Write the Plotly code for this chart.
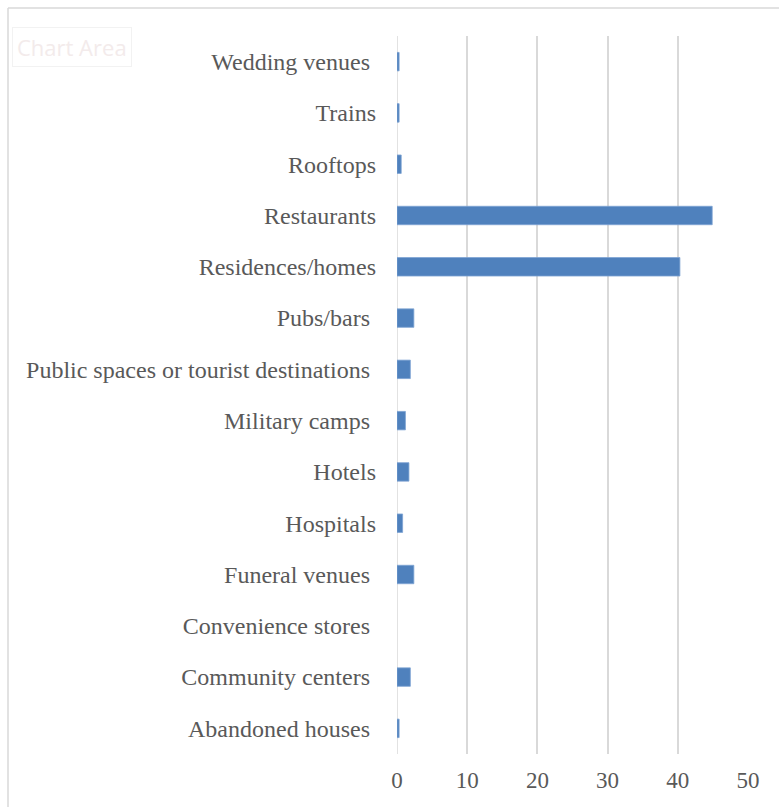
import plotly.graph_objects as go

categories = ["Abandoned houses\u00a0", "Community centers\u00a0", "Convenience stores\u00a0",
              "Funeral venues\u00a0", "Hospitals", "Hotels", "Military camps\u00a0",
              "Public spaces or tourist destinations\u00a0", "Pubs/bars\u00a0",
              "Residences/homes", "Restaurants", "Rooftops", "Trains", "Wedding venues\u00a0"]
values = [0.3, 1.9, 0.0, 2.4, 0.8, 1.7, 1.2, 1.9, 2.4, 40.3, 44.9, 0.6, 0.3, 0.3]
x_ticks = [0, 10, 20, 30, 40, 50]

W, H = 779, 807
L, R, T, B = 397, 31, 36, 53
pw = W - L - R
ph = H - T - B

def px(x):
    return (x - L) / pw

def py(y):
    return (H - B - y) / ph

fig = go.Figure(go.Bar(
    y=categories, x=values, orientation="h",
    marker=dict(color="#4F81BD",
                line=dict(color="#7DA3D3", width=[0.8 if v > 0 else 0 for v in values])),
    width=0.36,
))

fig.update_layout(
    width=W, height=H,
    margin=dict(l=L, r=R, t=T, b=B),
    paper_bgcolor="white", plot_bgcolor="white",
    showlegend=False,
    font=dict(family="Liberation Serif", size=24, color="#595959"),
    xaxis=dict(range=[0, 50], tickvals=x_ticks, showgrid=True, gridcolor="#D9D9D9",
               gridwidth=1.5, zeroline=False, showline=False, ticks="",
               ticklabelstandoff=10, fixedrange=True, tickfont=dict(size=23)),
    yaxis=dict(showgrid=False, zeroline=False, showline=False, ticks="",
               ticklabelstandoff=20, range=[-0.5, 13.5], fixedrange=True),
    shapes=[
        dict(type="line", xref="paper", yref="paper", x0=px(8), x1=px(779), y0=py(8), y1=py(8),
             line=dict(color="#D9D9D9", width=1.5)),
        dict(type="line", xref="paper", yref="paper", x0=px(8), x1=px(8), y0=py(8), y1=py(807),
             line=dict(color="#D9D9D9", width=1.5)),
        dict(type="line", xref="x", yref="paper", x0=0, x1=0, y0=0, y1=1,
             line=dict(color="#D9D9D9", width=1.5), layer="below"),
    ],
    annotations=[
        dict(text="Chart Area", xref="paper", yref="paper", x=px(72), y=py(47),
             xanchor="center", yanchor="middle", showarrow=False,
             font=dict(family="Open Sans", size=22, color="#F3EBEB"),
             bordercolor="#F2F2F2", borderwidth=1, borderpad=4, bgcolor="white"),
    ],
)

fig.write_html("out.html")
